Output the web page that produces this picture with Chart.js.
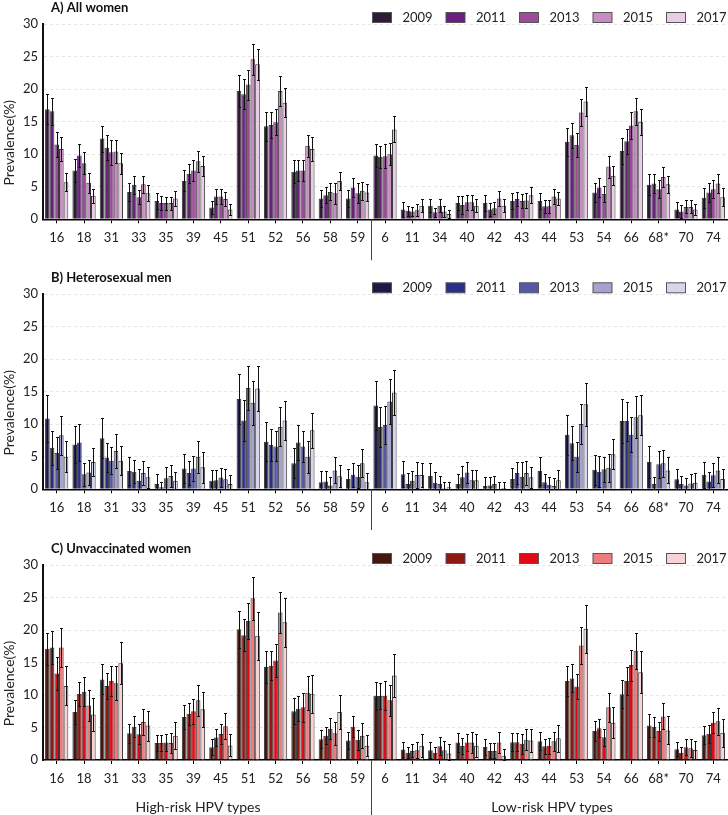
<!DOCTYPE html>
<html>
<head>
<meta charset="utf-8">
<title>HPV prevalence by year</title>
<script src="https://cdn.jsdelivr.net/npm/chart.js@4.4.1/dist/chart.umd.min.js"></script>
<style>
  html, body { margin:0; padding:0; background:#fff; }
  #wrap { position:relative; width:728px; height:815px; }
  canvas { position:absolute; left:0; }
</style>
</head>
<body>
<div id="wrap">
  <canvas id="panel-a" width="728" height="265" style="top:0"></canvas>
  <canvas id="panel-b" width="728" height="265" style="top:265px"></canvas>
  <canvas id="panel-c" width="728" height="285" style="top:530px"></canvas>
</div>
<script>
var hpvTypes = ['16','18','31','33','35','39','45','51','52','56','58','59',
                '6','11','34','40','42','43','44','53','54','66','68*','70','74'];
var years = ['2009','2011','2013','2015','2017'];
var yTicks = [0, 5, 10, 15, 20, 25, 30];

// A) all women, one row per year
var allWomenPrev = [
  [16.9,7.5,12.4,4.2,2.8,5.9,1.8,19.7,14.3,7.3,3.2,3.2, 9.8,1.5,2.1,2.5,2.5,2.8,2.8,11.9,4.1,10.5,5.3,1.5,3.3],
  [16.6,9.8,11.0,5.3,2.5,7.0,3.5,19.2,14.5,7.5,3.7,4.9, 9.6,1.3,1.1,2.2,1.5,3.1,2.0,12.9,4.9,12.0,5.5,1.2,4.1],
  [11.5,8.6,10.3,3.4,2.5,7.5,3.5,20.7,14.9,7.5,4.2,4.0, 9.7,1.2,2.1,2.6,1.7,2.8,2.0,11.4,3.9,14.4,4.6,1.9,4.6],
  [10.8,5.6,10.4,5.4,2.5,8.9,3.1,24.6,19.7,11.3,4.0,4.4, 10.0,1.4,1.2,2.6,3.2,2.9,3.5,16.4,8.1,16.6,6.5,1.9,5.5],
  [5.7,3.6,8.6,4.0,3.2,8.2,1.5,23.8,17.9,10.8,5.9,4.1, 13.8,2.1,0.8,2.1,2.1,3.7,3.2,18.1,6.7,15.0,5.4,1.5,3.4]
];
var allWomenErr = [
  [2.3,1.7,2.0,1.4,1.2,1.6,1.0,2.4,2.2,1.8,1.3,1.3, 1.8,1.1,1.0,1.1,1.2,1.2,1.2,2.1,1.4,2.0,1.6,1.1,1.5],
  [2.1,1.8,1.9,1.4,1.1,1.5,1.2,2.3,2.0,1.6,1.2,1.4, 1.7,0.8,0.7,1.4,1.0,1.1,1.0,1.9,1.4,1.9,1.4,1.0,1.5],
  [1.9,1.7,1.9,1.1,1.0,1.6,1.2,2.3,2.0,1.6,1.3,1.5, 1.8,0.7,1.0,1.1,0.9,1.1,1.0,1.9,1.2,2.1,1.4,1.0,1.4],
  [1.8,1.5,1.8,1.3,1.0,1.6,1.1,2.4,2.3,1.7,1.6,1.4, 1.7,0.9,0.8,1.1,1.2,1.2,1.2,2.1,1.7,2.1,1.5,1.0,1.5],
  [1.4,1.1,1.6,1.2,1.1,1.6,0.9,2.4,2.2,1.8,1.4,1.3, 2.0,1.0,0.6,1.0,1.0,1.2,1.0,2.2,1.5,2.0,1.3,0.9,1.4]
];

// B) heterosexual men
var menPrev = [
  [10.9,6.9,7.85,2.8,0.8,3.2,1.3,13.9,7.3,4.0,1.1,1.6, 12.9,2.3,2.05,0.8,0.5,1.6,2.8,8.4,3.0,10.5,4.2,1.55,2.25],
  [6.4,7.2,4.9,2.7,0.3,2.5,1.4,10.6,6.8,7.2,1.2,2.25, 9.6,0.8,1.0,1.85,0.6,2.5,1.1,7.1,2.7,10.5,0.8,0.8,1.2],
  [5.6,2.3,4.4,1.3,1.7,3.2,1.8,15.6,6.6,6.6,0.6,1.95, 9.9,1.3,0.8,2.6,0.8,1.95,0.7,5.0,3.1,8.4,3.85,0.6,2.15],
  [8.3,2.6,5.9,2.5,2.05,5.0,1.55,13.3,9.6,5.0,2.9,4.0, 13.5,2.2,0.15,1.4,0.1,2.5,0.5,10.05,3.3,11.1,4.0,0.9,2.9],
  [5.0,4.2,4.4,1.85,1.3,3.4,0.8,15.5,10.6,9.1,2.0,1.1, 14.9,2.2,0.3,1.4,0.2,1.85,1.4,13.1,5.4,11.4,2.9,1.0,1.6]
];
var menErr = [
  [3.6,2.9,3.1,2.1,1.5,2.3,1.7,3.8,3.0,2.3,1.7,1.6, 3.7,2.0,1.95,1.6,1.45,1.7,2.1,3.1,2.3,3.35,2.5,1.65,2.0],
  [2.6,2.8,2.3,1.8,0.9,1.9,1.6,3.1,2.5,2.7,1.6,1.85, 3.1,1.7,1.6,1.75,1.25,1.75,1.3,2.6,2.4,3.0,1.15,1.25,1.5],
  [2.4,1.8,2.1,1.9,1.7,1.9,1.5,3.4,2.3,2.4,1.25,1.8, 2.9,1.5,1.25,1.65,1.25,2.2,1.15,2.3,1.9,2.7,2.1,1.2,1.85],
  [3.0,1.9,2.6,1.8,1.65,2.5,1.65,3.4,3.0,2.5,2.0,2.15, 3.4,1.95,0.9,1.6,1.0,1.85,1.2,3.15,2.2,3.2,2.05,1.5,2.0],
  [2.4,2.1,2.2,1.65,1.4,2.4,1.35,3.4,3.0,2.7,1.7,1.4, 3.4,1.8,0.9,1.6,1.0,1.65,1.6,3.3,2.3,3.1,2.0,1.5,1.5]
];

// C) unvaccinated women
var unvaxPrev = [
  [17.1,7.4,12.4,4.1,2.6,6.6,1.95,20.1,14.3,7.5,3.2,3.0, 9.9,1.6,1.5,2.7,2.0,2.75,2.9,12.15,4.45,10.1,5.3,1.65,3.8],
  [17.3,10.15,11.4,5.1,2.6,7.1,3.45,19.2,14.5,7.9,3.75,5.1, 9.85,1.1,1.1,2.15,1.4,2.75,2.1,12.55,4.9,12.15,5.1,1.1,4.05],
  [13.3,10.5,12.2,3.95,2.7,7.5,4.0,21.4,15.3,8.1,4.8,3.1, 9.9,1.4,2.1,2.7,1.4,2.5,2.2,11.3,3.5,14.6,4.45,1.95,5.75],
  [17.3,8.4,11.8,5.85,2.6,9.2,5.2,24.9,22.7,10.35,4.1,3.75, 9.2,1.5,1.5,2.7,2.7,3.1,2.9,17.6,8.1,16.8,6.7,1.8,5.95],
  [11.4,7.0,14.9,5.3,3.75,7.8,2.25,19.1,21.2,10.2,7.4,2.2, 13.0,2.2,1.0,2.2,0.65,3.0,3.35,20.2,5.75,13.5,4.55,1.55,4.2]
];
var unvaxErr = [
  [2.5,1.9,2.3,1.5,1.25,1.8,1.25,2.8,2.4,2.0,1.4,1.35, 2.15,1.1,1.2,1.4,1.2,1.35,1.35,2.35,1.5,2.15,1.8,1.05,1.4],
  [2.5,1.9,2.0,1.6,1.25,1.7,1.35,2.5,2.2,1.9,1.35,1.6, 1.95,0.85,0.95,1.2,1.15,1.35,1.1,2.15,1.4,2.15,1.5,0.95,1.4],
  [2.5,2.2,2.3,1.55,1.25,1.9,1.6,2.8,2.6,2.2,1.6,1.5, 2.25,1.0,1.4,1.3,1.15,1.5,1.2,1.9,1.3,2.4,1.45,1.25,1.65],
  [3.0,2.4,2.6,2.0,1.5,2.4,2.0,3.3,3.2,2.6,1.8,1.9, 2.4,1.2,1.4,1.6,1.55,1.6,1.45,2.9,2.25,2.8,2.0,1.4,2.05],
  [3.0,2.6,3.25,2.3,2.05,2.7,1.7,3.7,3.8,2.9,2.65,1.6, 3.3,1.75,1.4,1.75,1.1,1.8,2.05,3.7,2.35,3.2,2.15,1.45,2.15]
];

var purples = ['#2f1a37','#6b1f80','#9d4a9b','#c78cc1','#e9cde5'];
var blues   = ['#1c1b45','#2c2f88','#5859a6','#a5a2d2','#d7d5eb'];
var reds    = ['#44170f','#8e1813','#e10a16','#ee7b7e','#f7d3d6'];

Chart.defaults.font.family = 'Lato, "Open Sans", sans-serif';
Chart.defaults.color = '#222';

var errorBars = {
  id: 'errorBars',
  afterDatasetsDraw: function(chart){
    var ctx = chart.ctx, ys = chart.scales.y;
    ctx.save();
    ctx.strokeStyle = '#111';
    ctx.lineWidth = 1;
    chart.data.datasets.forEach(function(ds, d){
      chart.getDatasetMeta(d).data.forEach(function(bar, i){
        var v = ds.data[i], e = ds.errors[i];
        var x = Math.round(bar.x) + 0.5;
        var top = Math.round(ys.getPixelForValue(v + e)) + 0.5;
        var bot = Math.round(ys.getPixelForValue(Math.max(0, v - e))) + 0.5;
        ctx.beginPath();
        ctx.moveTo(x, top); ctx.lineTo(x, bot);
        ctx.moveTo(x - 1.5, top); ctx.lineTo(x + 1.5, top);
        ctx.moveTo(x - 1.5, bot); ctx.lineTo(x + 1.5, bot);
        ctx.stroke();
      });
    });
    ctx.restore();
  }
};

var decor = {
  id: 'decor',
  afterDraw: function(chart, args, opts){
    var ctx = chart.ctx, area = chart.chartArea, xs = chart.scales.x;
    ctx.save();
    // panel title
    ctx.fillStyle = '#111';
    ctx.font = 'bold 13px Lato, sans-serif';
    ctx.textBaseline = 'middle';
    ctx.textAlign = 'left';
    ctx.fillText(opts.title, 51, area.top - 16.5);
    // legend
    ctx.font = '13px Lato, sans-serif';
    chart.data.datasets.forEach(function(ds, i){
      var bx = 372.5 + i * 73.5, by = area.top - 11.5;
      ctx.fillStyle = ds.backgroundColor;
      ctx.fillRect(bx, by, 19, 10);
      ctx.strokeStyle = '#555';
      ctx.lineWidth = 1;
      ctx.strokeRect(bx, by, 19, 10);
      ctx.fillStyle = '#222';
      ctx.fillText(ds.label, bx + 30, by + 5.5);
    });
    // y axis title
    ctx.save();
    ctx.translate(9, (area.top + area.bottom) / 2 + 21);
    ctx.rotate(-Math.PI / 2);
    ctx.textAlign = 'center';
    ctx.font = '14px Lato, sans-serif';
    ctx.fillText('Prevalence(%)', 0, 0);
    ctx.restore();
    // high / low risk separator
    var step = xs.getPixelForValue(1) - xs.getPixelForValue(0);
    var sx = Math.round(xs.getPixelForValue(11) + step / 2) + 0.5;
    ctx.strokeStyle = '#444';
    ctx.lineWidth = 1;
    ctx.beginPath();
    ctx.moveTo(sx, area.bottom);
    ctx.lineTo(sx, area.bottom + opts.sepLen);
    ctx.stroke();
    if (opts.groups) {
      ctx.textAlign = 'center';
      ctx.font = '14px Lato, sans-serif';
      ctx.fillText('High-risk HPV types', 198, area.bottom + 47);
      ctx.fillText('Low-risk HPV types', 552, area.bottom + 47);
    }
    ctx.restore();
  }
};

function insertarPanel(id, title, prev, err, colors, padTop, xHeight, sepLen, groups){
  var datasets = years.map(function(yr, i){
    return {
      label: yr,
      data: prev[i],
      errors: err[i],
      backgroundColor: colors[i],
      borderColor: '#3a3a3a',
      borderWidth: 1,
      categoryPercentage: 0.85,
      barPercentage: 1.0
    };
  });
  return new Chart(document.getElementById(id), {
    type: 'bar',
    data: { labels: hpvTypes, datasets: datasets },
    options: {
      responsive: false,
      animation: false,
      devicePixelRatio: 1,
      layout: { padding: { top: padTop, right: 1, bottom: 0, left: 0 } },
      plugins: {
        legend: { display: false },
        tooltip: { enabled: false },
        decor: { title: title, sepLen: sepLen, groups: groups }
      },
      scales: {
        x: {
          grid: { display: true, offset: false, drawOnChartArea: false, drawTicks: true, tickLength: 4, color: '#000' },
          border: { display: true, color: '#000', width: 1.5 },
          ticks: { autoSkip: false, maxRotation: 0, padding: 7, font: { size: 13 }, color: '#222' },
          afterFit: function(s){ s.height = xHeight; }
        },
        y: {
          min: 0, max: 30,
          afterBuildTicks: function(s){ s.ticks = yTicks.map(function(v){ return { value: v }; }); },
          grid: { color: '#e4e4e4', drawTicks: false },
          border: { display: true, color: '#111', width: 2, dash: [3, 3] },
          ticks: { padding: 5, font: { size: 13 }, color: '#222' },
          afterFit: function(s){ s.width = 43; }
        }
      }
    },
    plugins: [errorBars, decor]
  });
}

insertarPanel('panel-a', 'A) All women', allWomenPrev, allWomenErr, purples, 24, 45.7, 41, false);
insertarPanel('panel-b', 'B) Heterosexual men', menPrev, menErr, blues, 29.3, 40.7, 43, false);
insertarPanel('panel-c', 'C) Unvaccinated women', unvaxPrev, unvaxErr, reds, 35, 55, 60, true);
</script>
</body>
</html>
